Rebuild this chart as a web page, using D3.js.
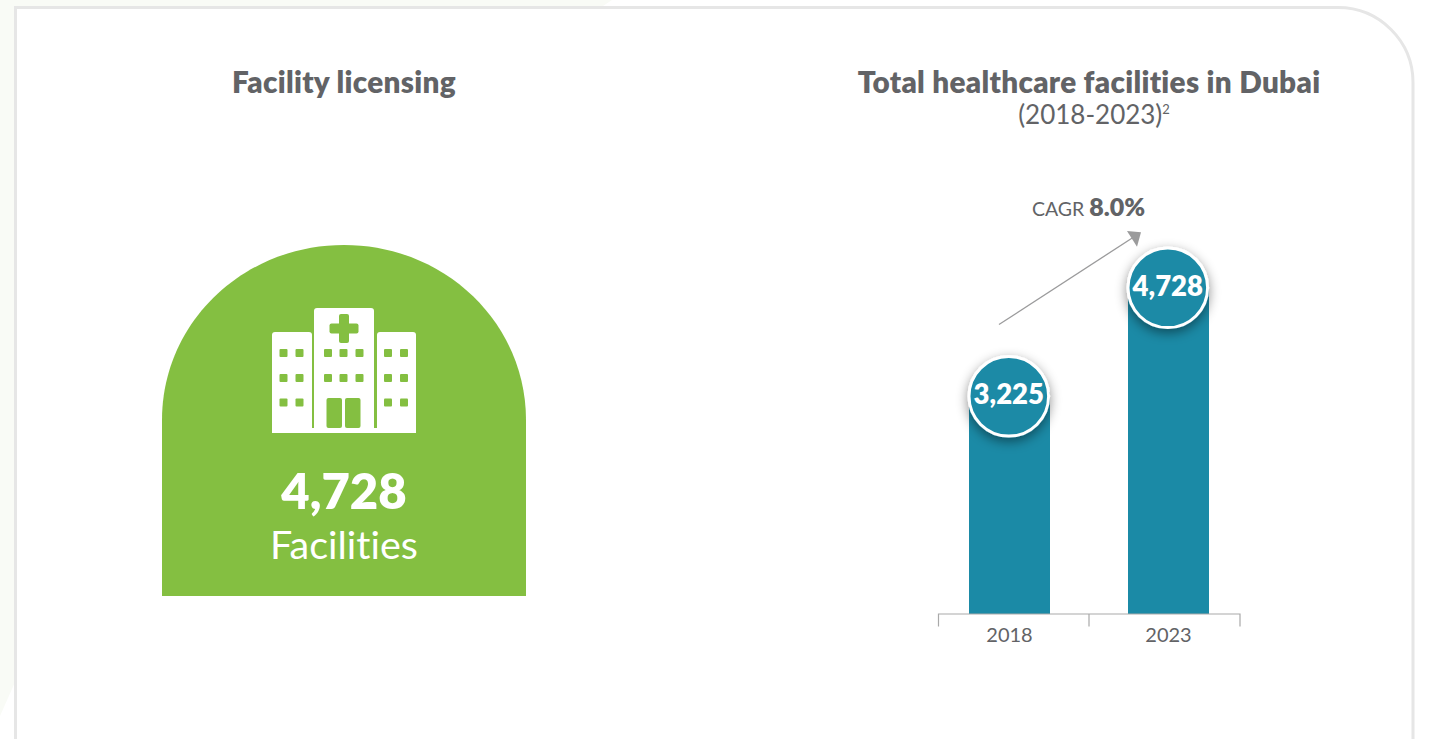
<!DOCTYPE html>
<html>
<head>
<meta charset="utf-8">
<script src="https://cdn.jsdelivr.net/npm/d3@7"></script>
<style>
    html, body { margin: 0; padding: 0; background: #ffffff; overflow: hidden; }
    text { font-family: Lato, sans-serif; font-variant-ligatures: none; }
</style>
</head>
<body>
<div id="chart"></div>
<script>
const years = ["2018", "2023"];
const facilities = [3225, 4728];
const totalFacilities = 4728;
const cagr = "8.0%";

const width = 1429;
const height = 739;
const grey = "#626366";
const teal = "#1b8aa6";
const green = "#84bf41";

const svg = d3.select("#chart").append("svg")
    .attr("width", width)
    .attr("height", height)
    .style("display", "block");

// soft shadow under the value circles
const shadow = svg.append("defs").append("filter")
    .attr("id", "circleShadow")
    .attr("x", "-40%").attr("y", "-40%")
    .attr("width", "180%").attr("height", "180%");
shadow.append("feDropShadow")
    .attr("dx", 0).attr("dy", 4)
    .attr("stdDeviation", 6)
    .attr("flood-color", "#000000")
    .attr("flood-opacity", 0.45);

// page tint behind the panel
svg.append("path")
    .attr("d", "M0,0H612L600,8H16V680L0,716Z")
    .attr("fill", "#f9fbf6");

// panel outline, open at the bottom
svg.append("path")
    .attr("d", "M15.5,739V7.5H1338a75,75 0 0 1 75,75V739")
    .attr("fill", "#ffffff")
    .attr("stroke", "#e6e6e6")
    .attr("stroke-width", 3);

// LEFT: facility licensing
svg.append("text")
    .attr("x", 344).attr("y", 92.5)
    .attr("text-anchor", "middle")
    .attr("font-size", 29.7)
    .attr("font-weight", 800)
    .attr("letter-spacing", 0.3)
    .attr("fill", grey)
    .text("Facility licensing");

svg.append("path")
    .attr("d", "M162,596V420C162,323 243,245 344,245S526,323 526,420V596Z")
    .attr("fill", green);

const icon = svg.append("g").attr("id", "hospitalIcon");
const buildings = [
    [272, 332, 40, 100, 3],
    [314, 308, 60, 124, 3],
    [377, 332, 39, 100, 3],
    [272, 428, 144, 5, 0]
];
buildings.forEach(b => {
    icon.append("rect")
        .attr("x", b[0]).attr("y", b[1])
        .attr("width", b[2]).attr("height", b[3])
        .attr("rx", b[4])
        .attr("fill", "#ffffff");
});

const windowRows = [349, 374, 398.5];
const windowCols = [
    { x: [279.5, 295.5], rows: windowRows },
    { x: [324, 339.5, 355.5], rows: windowRows.slice(0, 2) },
    { x: [384, 400], rows: windowRows }
];
windowCols.forEach(group => {
    group.x.forEach(x => {
        group.rows.forEach(y => {
            icon.append("rect")
                .attr("x", x).attr("y", y)
                .attr("width", 8).attr("height", 8)
                .attr("rx", 1)
                .attr("fill", green);
        });
    });
});

// doors and cross
[[326.5, 398, 15.5, 30], [345, 398, 15.5, 30],
 [339, 314, 10, 29], [329.5, 323.5, 29, 10]].forEach(r => {
    icon.append("rect")
        .attr("x", r[0]).attr("y", r[1])
        .attr("width", r[2]).attr("height", r[3])
        .attr("rx", 2)
        .attr("fill", green);
});

svg.append("text")
    .attr("x", 344).attr("y", 509)
    .attr("text-anchor", "middle")
    .attr("font-size", 49)
    .attr("font-weight", 800)
    .attr("fill", "#ffffff")
    .text(d3.format(",")(totalFacilities));

svg.append("text")
    .attr("x", 344).attr("y", 559)
    .attr("text-anchor", "middle")
    .attr("font-size", 39.5)
    .attr("fill", "#ffffff")
    .text("Facilities");

// RIGHT: total healthcare facilities
svg.append("text")
    .attr("x", 1089).attr("y", 92.5)
    .attr("text-anchor", "middle")
    .attr("font-size", 29.7)
    .attr("font-weight", 800)
    .attr("letter-spacing", 0.3)
    .attr("fill", grey)
    .text("Total healthcare facilities in Dubai");

const subtitle = svg.append("text")
    .attr("x", 1094).attr("y", 124)
    .attr("text-anchor", "middle")
    .attr("font-size", 26)
    .attr("fill", grey);
subtitle.append("tspan").text("(2018-2023)");
subtitle.append("tspan").attr("font-size", 13).attr("dy", -10).text("2");

const baseY = 614;
const xScale = d3.scaleBand().domain(years).range([930, 1248]);
const yScale = d3.scaleLinear().domain([0, 4728]).range([baseY, 289]);
// the value circles sit on their own slightly flatter line
const circleScale = d3.scaleLinear().domain([3225, 4728]).range([396.3, 287.8]);
const barWidth = 81;

const chart = svg.append("g").attr("id", "barChart");

chart.selectAll("rect.bar")
    .data(years)
    .join("rect")
    .attr("class", "bar")
    .attr("x", d => xScale(d) + xScale.bandwidth() / 2 - barWidth / 2)
    .attr("y", (d, i) => yScale(facilities[i]))
    .attr("width", barWidth)
    .attr("height", (d, i) => baseY - yScale(facilities[i]))
    .attr("fill", teal);

// bracket axis
svg.append("path")
    .attr("d", `M938.5,626.5V${baseY}H1240V626.5M1089,${baseY}V626.5`)
    .attr("fill", "none")
    .attr("stroke", "#a9a9a9")
    .attr("stroke-width", 1.2);

chart.selectAll("text.year")
    .data(years)
    .join("text")
    .attr("class", "year")
    .attr("x", d => xScale(d) + xScale.bandwidth() / 2)
    .attr("y", 642)
    .attr("text-anchor", "middle")
    .attr("font-size", 20)
    .attr("fill", grey)
    .text(d => d);

chart.selectAll("circle.value")
    .data(years)
    .join("circle")
    .attr("class", "value")
    .attr("cx", d => xScale(d) + xScale.bandwidth() / 2 - 0.7)
    .attr("cy", (d, i) => circleScale(facilities[i]))
    .attr("r", 39.8)
    .attr("fill", teal)
    .attr("stroke", "#ffffff")
    .attr("stroke-width", 3)
    .attr("filter", "url(#circleShadow)");

chart.selectAll("text.value")
    .data(years)
    .join("text")
    .attr("class", "value")
    .attr("x", d => xScale(d) + xScale.bandwidth() / 2 - 0.7)
    .attr("y", (d, i) => circleScale(facilities[i]) + 8)
    .attr("text-anchor", "middle")
    .attr("font-size", 27.5)
    .attr("font-weight", 800)
    .attr("fill", "#ffffff")
    .text((d, i) => d3.format(",")(facilities[i]));

// CAGR arrow
svg.append("line")
    .attr("x1", 999).attr("y1", 324.5)
    .attr("x2", 1133).attr("y2", 237.5)
    .attr("stroke", "#9b9b9c")
    .attr("stroke-width", 1.3);
svg.append("path")
    .attr("d", "M1141,232.3L1127,231L1137,246.7Z")
    .attr("fill", "#9b9b9c");

const cagrLabel = svg.append("text")
    .attr("x", 1088.5).attr("y", 216)
    .attr("text-anchor", "middle")
    .attr("fill", grey);
cagrLabel.append("tspan").attr("font-size", 19.5).text("CAGR ");
cagrLabel.append("tspan").attr("font-size", 25).attr("font-weight", 800).text(cagr);
</script>
</body>
</html>
